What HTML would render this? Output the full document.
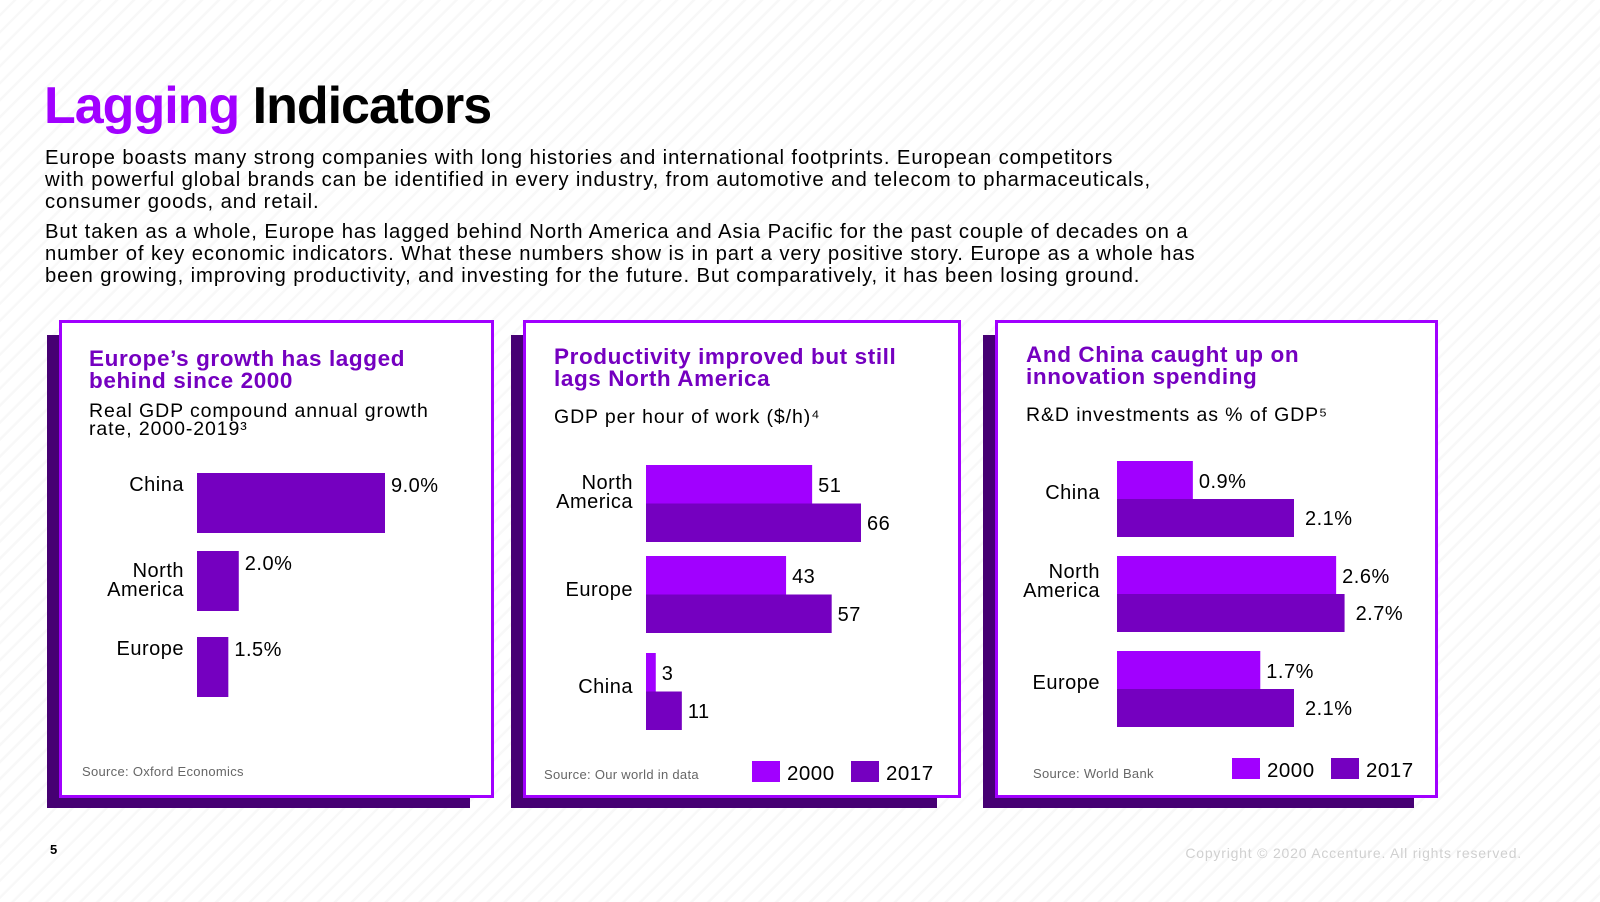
<!DOCTYPE html>
<html><head><meta charset="utf-8">
<style>
html,body{margin:0;padding:0;}
body{width:1600px;height:902px;overflow:hidden;position:relative;font-family:"Liberation Sans",sans-serif;
background:#fff repeating-linear-gradient(135deg,#fff 0px,#fff 9px,#f8f8f8 10px,#f8f8f8 12px);}
.t{position:absolute;white-space:nowrap;}
#title{left:44px;top:76px;font-size:52px;font-weight:bold;letter-spacing:-1px;line-height:60px;}
.body{left:45px;font-size:20.3px;line-height:22px;color:#000;letter-spacing:0.9px;}
svg{position:absolute;left:0;top:0;}
</style></head><body>
<div class="t" id="title"><span style="color:#A100FF">Lagging</span> Indicators</div>
<div class="t body" style="top:147px">Europe boasts many strong companies with long histories and international footprints. European competitors<br>with powerful global brands can be identified in every industry, from automotive and telecom to pharmaceuticals,<br>consumer goods, and retail.</div>
<div class="t body" style="top:221px">But taken as a whole, Europe has lagged behind North America and Asia Pacific for the past couple of decades on a<br>number of key economic indicators. What these numbers show is in part a very positive story. Europe as a whole has<br>been growing, improving productivity, and investing for the future. But comparatively, it has been losing ground.</div>
<svg id="chart" width="1600" height="902"></svg>
<script>
// Panel 1 data
const p1Categories = ["China","North America","Europe"];
const p1Values = [9.0, 2.0, 1.5];
const p1Labels = ["9.0%","2.0%","1.5%"];
// Panel 2 data
const p2Categories = ["North America","Europe","China"];
const p2Values2000 = [51, 43, 3];
const p2Values2017 = [66, 57, 11];
const p2Labels2000 = ["51","43","3"];
const p2Labels2017 = ["66","57","11"];
// Panel 3 data
const p3Categories = ["China","North America","Europe"];
const p3Values2000 = [0.9, 2.6, 1.7];
const p3Values2017 = [2.1, 2.7, 2.1];
const p3Labels2000 = ["0.9%","2.6%","1.7%"];
const p3Labels2017 = ["2.1%","2.7%","2.1%"];
const legendYears = ["2000","2017"];

const NS="http://www.w3.org/2000/svg";
const svg=document.getElementById('chart');
const C0="#A100FF",C1="#7500C0",SH="#460073";
function mk(tag,attrs,parent){const e=document.createElementNS(NS,tag);for(const k in attrs)e.setAttribute(k,attrs[k]);(parent||svg).appendChild(e);return e;}
function txt(x,y,s,opt,parent){opt=opt||{};const e=mk('text',{x:x,y:y,'font-family':'Liberation Sans, sans-serif','font-size':opt.size||20,fill:opt.fill||'#000','font-weight':opt.weight||'normal','text-anchor':opt.anchor||'start','letter-spacing':opt.ls!==undefined?opt.ls:0.5},parent);
  const lines=s.split('\n');if(lines.length===1){e.textContent=s;}else{lines.forEach((l,i)=>{const t=mk('tspan',{x:x,dy:i?(opt.lh||19):0},e);t.textContent=l;});}return e;}

function panel(x,w,name){
  const g=mk('g',{});
  
  
  const s=mk('rect',{x:x-12,y:335,width:w-12,height:473,fill:SH},g);
  
  
  const b=mk('rect',{x:x+1.5,y:321.5,width:w-3,height:475,fill:'#fff',stroke:C0,'stroke-width':3},g);
  
  
  return g;
}
function head(g,x,title,ty,sub,sy){
  const t=txt(x,ty,title,{size:22.5,weight:'bold',fill:C1,lh:22,ls:0.6},g);
  
  
  const s=txt(x,sy,sub,{size:19.5,lh:18,ls:0.9},g);
  
  
}
function catLabel(g,x,yc,s){
  let e;
  if(s==="North America"){e=txt(x,yc-4,"North\nAmerica",{anchor:'end',lh:19},g);}
  else e=txt(x,yc+6,s,{anchor:'end'},g);
  
  
}
function legend(g,x,y){
  legendYears.forEach((yr,i)=>{
    const r=mk('rect',{x:x+i*99,y:y,width:28,height:21,fill:i?C1:C0},g);
    
    
    const t=txt(x+i*99+35,y+19,yr,{size:20.5},g);
    
    
  });
}
function source(g,x,y,s){const e=txt(x,y,s,{size:13,fill:'#666',ls:0.3},g);
  
  }

// Panel 1
(function(){
  const g=panel(59,435,'growth-panel');
  head(g,89,"Europe’s growth has lagged\nbehind since 2000",366,"Real GDP compound annual growth\nrate, 2000-2019³",417);
  const x0=197, sc=188/9, top=[473,551,637], h=60;
  p1Categories.forEach((c,i)=>{
    const w=p1Values[i]*sc;
    const r=mk('rect',{x:x0,y:top[i],width:w,height:h,fill:C1},g);
    
    
    const v=txt(x0+w+6,top[i]+19,p1Labels[i],{},g);
    
    
    catLabel(g,184,top[i]+(i===1?30:12),c);
  });
  source(g,82,776,"Source: Oxford Economics");
})();

// Panel 2
(function(){
  const g=panel(523,438,'productivity-panel');
  head(g,554,"Productivity improved but still\nlags North America",364,"GDP per hour of work ($/h)⁴",423);
  const x0=646, sc=215/66, top=[465,556,653], h=38.5;
  p2Categories.forEach((c,i)=>{
    const w0=p2Values2000[i]*sc, w1=p2Values2017[i]*sc;
    const a=mk('rect',{x:x0,y:top[i],width:w0,height:h,fill:C0},g);
    
    
    const b=mk('rect',{x:x0,y:top[i]+h,width:w1,height:h,fill:C1},g);
    
    
    const v0=txt(x0+w0+6,top[i]+27,p2Labels2000[i],{},g);
    
    
    const v1=txt(x0+w1+6,top[i]+65,p2Labels2017[i],{},g);
    
    
    catLabel(g,633,top[i]+(c==="North America"?28:34),c);
  });
  legend(g,752,761);
  source(g,544,779,"Source: Our world in data");
})();

// Panel 3
(function(){
  const g=panel(995,443,'rd-panel');
  head(g,1026,"And China caught up on\ninnovation spending",362,"R&D investments as % of GDP⁵",421);
  const x0=1117, sc=177/2.1, top=[461,556,651], h=38;
  p3Categories.forEach((c,i)=>{
    const w0=p3Values2000[i]*sc, w1=p3Values2017[i]*sc;
    const a=mk('rect',{x:x0,y:top[i],width:w0,height:h,fill:C0},g);
    
    
    const b=mk('rect',{x:x0,y:top[i]+h,width:w1,height:h,fill:C1},g);
    
    
    const v0=txt(x0+w0+6,top[i]+27,p3Labels2000[i],{},g);
    
    
    const v1=txt(x0+w1+11,top[i]+64,p3Labels2017[i],{},g);
    
    
    catLabel(g,1100,top[i]+(c==="North America"?26:32),c);
  });
  legend(g,1232,758);
  source(g,1033,778,"Source: World Bank");
})();

const pn=txt(50,854,"5",{size:13,weight:'bold'});


const cp=txt(1522,858,"Copyright © 2020 Accenture. All rights reserved.",{size:14,fill:'#d0d0d0',anchor:'end',ls:0.8});


</script>
</body></html>
